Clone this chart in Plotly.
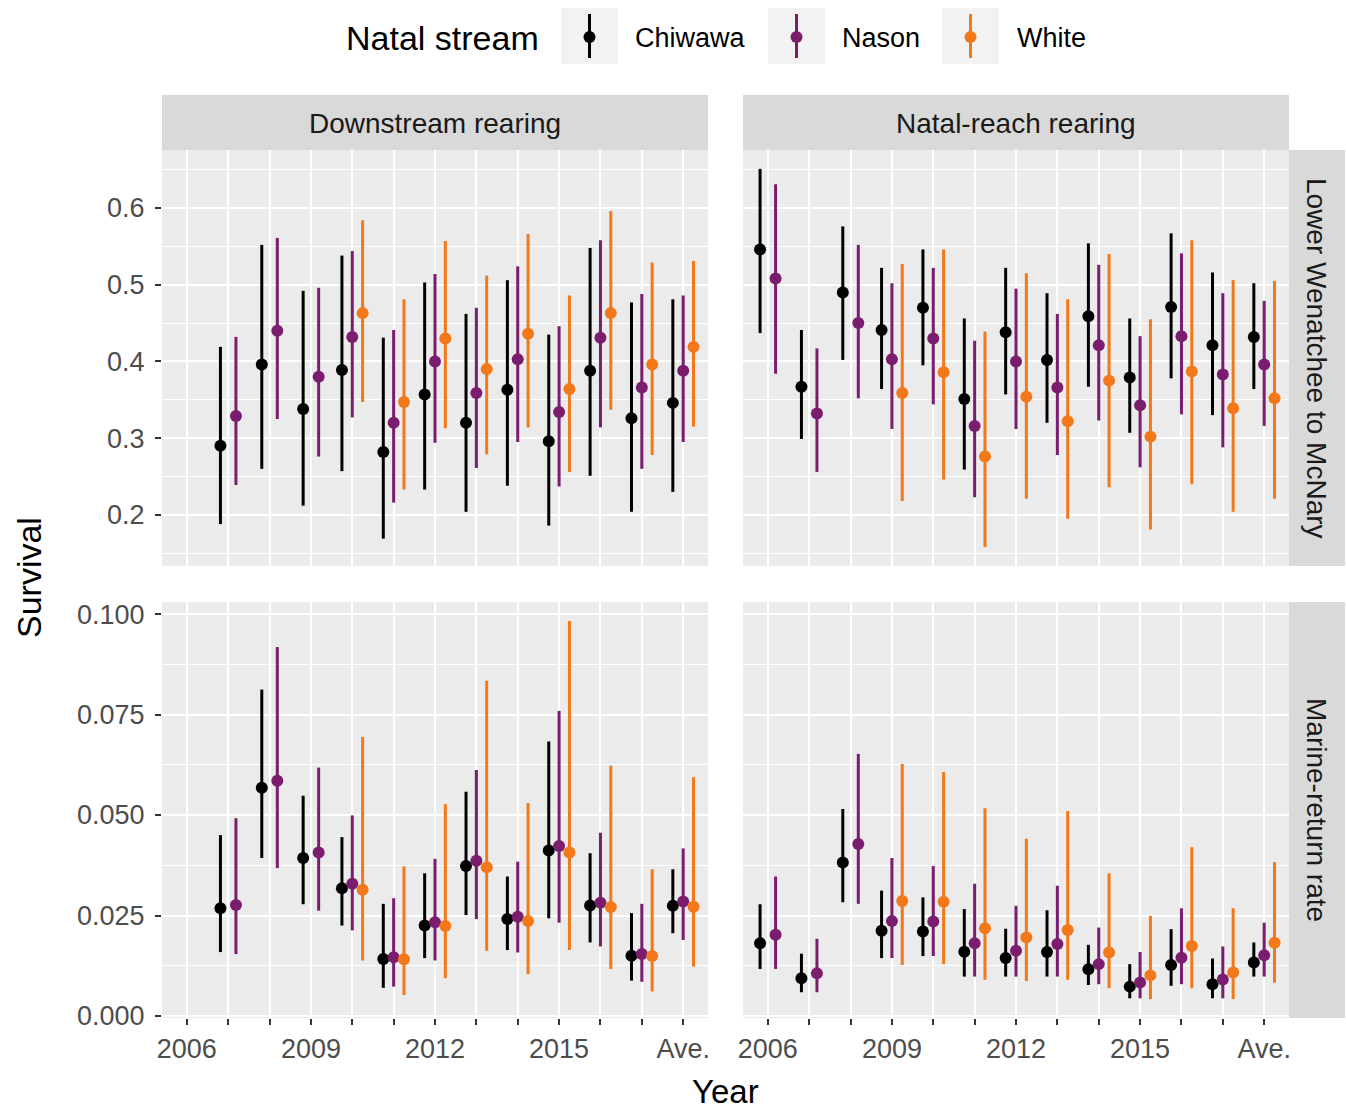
import plotly.graph_objects as go

# ---------------- data ----------------
x_labels = ["2006", "2007", "2008", "2009", "2010", "2011", "2012",
            "2013", "2014", "2015", "2016", "2017", "Ave."]
x_pos = list(range(2006, 2019))
tick_text = ["2006", "", "", "2009", "", "", "2012", "", "", "2015", "", "", "Ave."]
streams = ["Chiwawa", "Nason", "White"]
stream_colors = ["#000000", "#7B1D6E", "#F37819"]
rearing_labels = ["Downstream rearing", "Natal-reach rearing"]
reach_labels = ["Lower Wenatchee to McNary", "Marine-return rate"]
N = None

# Downstream rearing, Lower Wenatchee to McNary
dn_lw_chi_est = [N, 0.290, 0.396, 0.338, 0.389, 0.282, 0.357, 0.320, 0.363, 0.296, 0.388, 0.326, 0.346]
dn_lw_chi_lo = [N, 0.188, 0.260, 0.212, 0.257, 0.169, 0.233, 0.204, 0.238, 0.186, 0.251, 0.204, 0.230]
dn_lw_chi_hi = [N, 0.419, 0.552, 0.492, 0.538, 0.431, 0.503, 0.462, 0.506, 0.435, 0.548, 0.477, 0.481]
dn_lw_nas_est = [N, 0.329, 0.440, 0.380, 0.432, 0.320, 0.400, 0.359, 0.403, 0.334, 0.431, 0.366, 0.388]
dn_lw_nas_lo = [N, 0.239, 0.325, 0.276, 0.327, 0.216, 0.294, 0.261, 0.295, 0.237, 0.314, 0.260, 0.295]
dn_lw_nas_hi = [N, 0.432, 0.561, 0.496, 0.544, 0.441, 0.514, 0.470, 0.524, 0.446, 0.558, 0.488, 0.486]
dn_lw_whi_est = [N, N, N, N, 0.463, 0.347, 0.430, 0.390, 0.436, 0.364, 0.463, 0.396, 0.419]
dn_lw_whi_lo = [N, N, N, N, 0.347, 0.233, 0.313, 0.279, 0.314, 0.256, 0.337, 0.278, 0.315]
dn_lw_whi_hi = [N, N, N, N, 0.584, 0.481, 0.557, 0.512, 0.566, 0.486, 0.596, 0.529, 0.531]

# Natal-reach rearing, Lower Wenatchee to McNary
nr_lw_chi_est = [0.546, 0.367, 0.490, 0.441, 0.470, 0.351, 0.438, 0.402, 0.459, 0.379, 0.471, 0.421, 0.432]
nr_lw_chi_lo = [0.437, 0.299, 0.402, 0.364, 0.395, 0.259, 0.357, 0.320, 0.367, 0.307, 0.378, 0.330, 0.364]
nr_lw_chi_hi = [0.651, 0.441, 0.576, 0.522, 0.546, 0.456, 0.522, 0.489, 0.554, 0.456, 0.567, 0.516, 0.502]
nr_lw_nas_est = [0.508, 0.332, 0.450, 0.403, 0.430, 0.316, 0.400, 0.366, 0.421, 0.343, 0.433, 0.383, 0.396]
nr_lw_nas_lo = [0.384, 0.256, 0.352, 0.312, 0.344, 0.223, 0.312, 0.278, 0.323, 0.262, 0.331, 0.288, 0.316]
nr_lw_nas_hi = [0.631, 0.417, 0.552, 0.502, 0.522, 0.427, 0.495, 0.462, 0.526, 0.433, 0.541, 0.489, 0.479]
nr_lw_whi_est = [N, N, N, 0.359, 0.386, 0.276, 0.354, 0.322, 0.375, 0.302, 0.387, 0.339, 0.352]
nr_lw_whi_lo = [N, N, N, 0.218, 0.246, 0.158, 0.221, 0.195, 0.236, 0.181, 0.240, 0.204, 0.221]
nr_lw_whi_hi = [N, N, N, 0.527, 0.546, 0.439, 0.515, 0.481, 0.540, 0.455, 0.558, 0.506, 0.505]

# Downstream rearing, Marine-return rate
dn_mr_chi_est = [N, 0.0268, 0.0568, 0.0393, 0.0318, 0.0142, 0.0225, 0.0373, 0.0241, 0.0412, 0.0275, 0.0150, 0.0274]
dn_mr_chi_lo = [N, 0.0159, 0.0393, 0.0278, 0.0225, 0.0070, 0.0144, 0.0251, 0.0164, 0.0243, 0.0183, 0.0088, 0.0206]
dn_mr_chi_hi = [N, 0.0450, 0.0812, 0.0548, 0.0445, 0.0279, 0.0355, 0.0558, 0.0347, 0.0683, 0.0405, 0.0256, 0.0365]
dn_mr_nas_est = [N, 0.0276, 0.0585, 0.0407, 0.0329, 0.0146, 0.0233, 0.0386, 0.0247, 0.0423, 0.0282, 0.0154, 0.0285]
dn_mr_nas_lo = [N, 0.0154, 0.0368, 0.0262, 0.0213, 0.0073, 0.0138, 0.0241, 0.0158, 0.0232, 0.0173, 0.0085, 0.0189]
dn_mr_nas_hi = [N, 0.0492, 0.0918, 0.0618, 0.0499, 0.0293, 0.0391, 0.0612, 0.0384, 0.0759, 0.0456, 0.0279, 0.0417]
dn_mr_whi_est = [N, N, N, N, 0.0314, 0.0141, 0.0224, 0.0370, 0.0236, 0.0407, 0.0271, 0.0149, 0.0272]
dn_mr_whi_lo = [N, N, N, N, 0.0138, 0.0052, 0.0094, 0.0162, 0.0104, 0.0164, 0.0117, 0.0061, 0.0123]
dn_mr_whi_hi = [N, N, N, N, 0.0694, 0.0372, 0.0527, 0.0834, 0.0530, 0.0983, 0.0623, 0.0365, 0.0594]

# Natal-reach rearing, Marine-return rate
nr_mr_chi_est = [0.0181, 0.0094, 0.0382, 0.0212, 0.0210, 0.0160, 0.0144, 0.0159, 0.0116, 0.0073, 0.0127, 0.0079, 0.0133]
nr_mr_chi_lo = [0.0117, 0.0059, 0.0283, 0.0144, 0.0149, 0.0098, 0.0098, 0.0098, 0.0077, 0.0044, 0.0075, 0.0044, 0.0098]
nr_mr_chi_hi = [0.0278, 0.0155, 0.0515, 0.0312, 0.0295, 0.0266, 0.0217, 0.0263, 0.0177, 0.0129, 0.0216, 0.0143, 0.0183]
nr_mr_nas_est = [0.0202, 0.0106, 0.0428, 0.0236, 0.0235, 0.0181, 0.0162, 0.0179, 0.0129, 0.0083, 0.0145, 0.0091, 0.0151]
nr_mr_nas_lo = [0.0117, 0.0059, 0.0279, 0.0144, 0.0149, 0.0098, 0.0098, 0.0098, 0.0079, 0.0044, 0.0079, 0.0044, 0.0098]
nr_mr_nas_hi = [0.0347, 0.0192, 0.0652, 0.0393, 0.0373, 0.0329, 0.0274, 0.0324, 0.0220, 0.0159, 0.0268, 0.0173, 0.0232]
nr_mr_whi_est = [N, N, N, 0.0286, 0.0284, 0.0218, 0.0195, 0.0214, 0.0158, 0.0101, 0.0174, 0.0108, 0.0182]
nr_mr_whi_lo = [N, N, N, 0.0127, 0.0129, 0.0090, 0.0087, 0.0090, 0.0069, 0.0042, 0.0069, 0.0042, 0.0083]
nr_mr_whi_hi = [N, N, N, 0.0627, 0.0607, 0.0517, 0.0441, 0.0510, 0.0355, 0.0249, 0.0420, 0.0268, 0.0383]

top_ticks = [0.2, 0.3, 0.4, 0.5, 0.6]
top_tick_text = ["0.2", "0.3", "0.4", "0.5", "0.6"]
top_minor = [0.15, 0.25, 0.35, 0.45, 0.55, 0.65]
bot_ticks = [0.0, 0.025, 0.05, 0.075, 0.1]
bot_tick_text = ["0.000", "0.025", "0.050", "0.075", "0.100"]
bot_minor = [0.0125, 0.0375, 0.0625, 0.0875]

# panel index = row*2 + col  (row: reach, col: rearing)
panels = [
    [(dn_lw_chi_est, dn_lw_chi_lo, dn_lw_chi_hi), (dn_lw_nas_est, dn_lw_nas_lo, dn_lw_nas_hi), (dn_lw_whi_est, dn_lw_whi_lo, dn_lw_whi_hi)],
    [(nr_lw_chi_est, nr_lw_chi_lo, nr_lw_chi_hi), (nr_lw_nas_est, nr_lw_nas_lo, nr_lw_nas_hi), (nr_lw_whi_est, nr_lw_whi_lo, nr_lw_whi_hi)],
    [(dn_mr_chi_est, dn_mr_chi_lo, dn_mr_chi_hi), (dn_mr_nas_est, dn_mr_nas_lo, dn_mr_nas_hi), (dn_mr_whi_est, dn_mr_whi_lo, dn_mr_whi_hi)],
    [(nr_mr_chi_est, nr_mr_chi_lo, nr_mr_chi_hi), (nr_mr_nas_est, nr_mr_nas_lo, nr_mr_nas_hi), (nr_mr_whi_est, nr_mr_whi_lo, nr_mr_whi_hi)],
]

# ---------------- layout geometry ----------------
W, H = 1346, 1113
FONT = "Liberation Sans, Arial, sans-serif"
col_px = [(162, 708), (743, 1289)]
row_px = [(150, 566), (602, 1018)]


def fx(p):
    return p / W


def fy(p):
    return 1 - p / H


def dodge(series, width=0.75):
    out = [[] for _ in series]
    for j, xv in enumerate(x_pos):
        present = [k for k, s in enumerate(series) if s[0][j] is not None]
        n = len(present)
        for k in range(len(series)):
            if k in present:
                i = present.index(k)
                out[k].append(xv - width / 2 + width / n * (i + 0.5))
            else:
                out[k].append(None)
    return out


def row_range(rows):
    lo = min(v for p in rows for s in p for v in s[1] if v is not None)
    hi = max(v for p in rows for s in p for v in s[2] if v is not None)
    pad = 0.05 * (hi - lo)
    return [lo - pad, hi + pad]


y_ranges = [row_range(panels[0:2]), row_range(panels[2:4])]
x_range = [x_pos[0] - 0.05 * (x_pos[-1] - x_pos[0]), x_pos[-1] + 0.05 * (x_pos[-1] - x_pos[0])]

fig = go.Figure()

for p_idx, series in enumerate(panels):
    ax = "" if p_idx == 0 else str(p_idx + 1)
    xs = dodge(series)
    # error bars first (lineranges), then points on top
    for k, (est, lo, hi) in enumerate(series):
        fig.add_trace(go.Scatter(
            x=xs[k], y=est, mode="markers",
            marker=dict(size=1, color="rgba(0,0,0,0)"),
            error_y=dict(type="data", symmetric=False,
                         array=[None if e is None else h - e for e, h in zip(est, hi)],
                         arrayminus=[None if e is None else e - l for e, l in zip(est, lo)],
                         thickness=3, width=0, color=stream_colors[k]),
            xaxis="x" + ax, yaxis="y" + ax, showlegend=False, hoverinfo="skip"))
    for k, (est, lo, hi) in enumerate(series):
        fig.add_trace(go.Scatter(
            x=xs[k], y=est, mode="markers", name=streams[k],
            marker=dict(size=12, color=stream_colors[k], line=dict(width=0)),
            xaxis="x" + ax, yaxis="y" + ax, showlegend=False))

layout_axes = {}
for r in range(2):
    for c in range(2):
        k = r * 2 + c + 1
        sfx = "" if k == 1 else str(k)
        bottom = r == 1
        left = c == 0
        layout_axes["xaxis" + sfx] = dict(
            domain=[fx(col_px[c][0]), fx(col_px[c][1])], anchor="y" + sfx,
            range=x_range, tickmode="array", tickvals=x_pos, ticktext=tick_text,
            showticklabels=bottom, ticks="outside" if bottom else "",
            ticklen=6, tickwidth=2, tickcolor="#333333", ticklabelstandoff=1,
            tickfont=dict(family=FONT, size=27, color="#4D4D4D"),
            showgrid=True, gridcolor="white", gridwidth=2.2, automargin=False,
            zeroline=False, showline=False, fixedrange=True)
        layout_axes["yaxis" + sfx] = dict(
            domain=[fy(row_px[r][1]), fy(row_px[r][0])], anchor="x" + sfx,
            range=y_ranges[r], tickmode="array",
            tickvals=bot_ticks if bottom else top_ticks,
            ticktext=bot_tick_text if bottom else top_tick_text,
            showticklabels=left, ticks="outside" if left else "",
            ticklen=6, tickwidth=2, tickcolor="#333333", ticklabelstandoff=5,
            tickfont=dict(family=FONT, size=27, color="#4D4D4D"),
            showgrid=True, gridcolor="white", gridwidth=2.2, automargin=False,
            minor=dict(tickmode="array", tickvals=bot_minor if bottom else top_minor,
                       showgrid=True, gridcolor="white", gridwidth=1.1, ticks=""),
            zeroline=False, showline=False, fixedrange=True)

shapes = []
annotations = []

# strips on top
for c in range(2):
    shapes.append(dict(type="rect", xref="paper", yref="paper",
                       x0=fx(col_px[c][0]), x1=fx(col_px[c][1]), y0=fy(150), y1=fy(95),
                       fillcolor="#D9D9D9", line=dict(width=0), layer="below"))
    annotations.append(dict(text=rearing_labels[c], xref="paper", yref="paper",
                            x=fx((col_px[c][0] + col_px[c][1]) / 2), y=fy(123),
                            xanchor="center", yanchor="middle", showarrow=False,
                            font=dict(family=FONT, size=28, color="#1A1A1A")))
# strips on right
for r in range(2):
    shapes.append(dict(type="rect", xref="paper", yref="paper",
                       x0=fx(1289), x1=fx(1345), y0=fy(row_px[r][1]), y1=fy(row_px[r][0]),
                       fillcolor="#D9D9D9", line=dict(width=0), layer="below"))
    annotations.append(dict(text=reach_labels[r], xref="paper", yref="paper",
                            x=fx(1317), y=fy((row_px[r][0] + row_px[r][1]) / 2),
                            xanchor="center", yanchor="middle", showarrow=False, textangle=90,
                            font=dict(family=FONT, size=28, color="#1A1A1A")))

# axis titles
annotations.append(dict(text="Year", xref="paper", yref="paper", x=fx(725.5), y=fy(1112),
                        xanchor="center", yanchor="bottom", showarrow=False,
                        font=dict(family=FONT, size=33, color="#000000")))
annotations.append(dict(text="Survival", xref="paper", yref="paper", x=fx(29), y=fy(578),
                        xanchor="center", yanchor="middle", showarrow=False, textangle=-90,
                        font=dict(family=FONT, size=34, color="#000000")))

# legend (drawn manually, ggplot style)
annotations.append(dict(text="Natal stream", xref="paper", yref="paper", x=fx(442), y=fy(38),
                        xanchor="center", yanchor="middle", showarrow=False,
                        font=dict(family=FONT, size=34, color="#000000")))
key_left = [561, 768, 942]
label_left = [633, 840, 1015]
for k, name in enumerate(streams):
    x0 = key_left[k]
    cx = x0 + 28.5
    shapes.append(dict(type="rect", xref="paper", yref="paper",
                       x0=fx(x0), x1=fx(x0 + 57), y0=fy(64), y1=fy(8),
                       fillcolor="#F2F2F2", line=dict(width=0)))
    shapes.append(dict(type="line", xref="paper", yref="paper",
                       x0=fx(cx), x1=fx(cx), y0=fy(58), y1=fy(14),
                       line=dict(color=stream_colors[k], width=3)))
    shapes.append(dict(type="circle", xref="paper", yref="paper",
                       x0=fx(cx - 6), x1=fx(cx + 6), y0=fy(43), y1=fy(31),
                       fillcolor=stream_colors[k], line=dict(width=0)))
    annotations.append(dict(text=name, xref="paper", yref="paper", x=fx(label_left[k]), y=fy(38),
                            xanchor="left", yanchor="middle", showarrow=False,
                            font=dict(family=FONT, size=27, color="#000000")))

fig.update_layout(
    width=W, height=H, margin=dict(l=0, r=0, t=0, b=0, autoexpand=False),
    paper_bgcolor="white", plot_bgcolor="#EBEBEB",
    showlegend=False, shapes=shapes, annotations=annotations,
    font=dict(family=FONT),
    **layout_axes)

fig.write_html("out.html", config={"displayModeBar": False},
               post_script="document.body.style.margin='0';document.body.style.padding='0';"
                           "document.body.style.overflow='hidden';")
